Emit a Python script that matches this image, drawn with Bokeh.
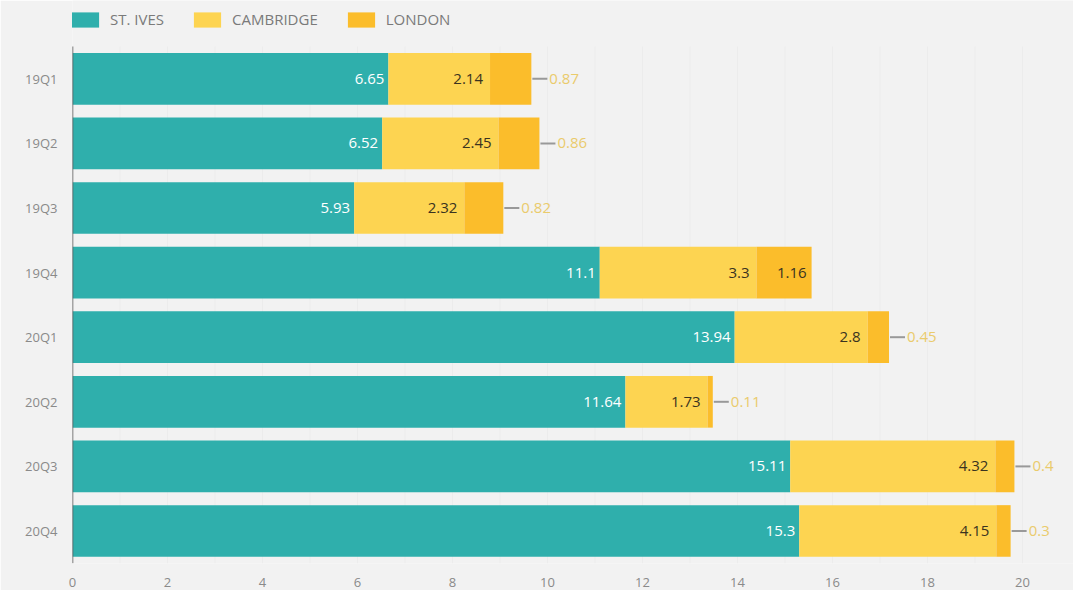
from bokeh.plotting import figure
from bokeh.models import ColumnDataSource, Legend, FixedTicker, Range1d
from bokeh.core.properties import value
from bokeh.embed import file_html
from bokeh.resources import INLINE

quarters = ["19Q1", "19Q2", "19Q3", "19Q4", "20Q1", "20Q2", "20Q3", "20Q4"]
st_ives = [6.65, 6.52, 5.93, 11.1, 13.94, 11.64, 15.11, 15.3]
cambridge = [2.14, 2.45, 2.32, 3.3, 2.8, 1.73, 4.32, 4.15]
london = [0.87, 0.86, 0.82, 1.16, 0.45, 0.11, 0.4, 0.3]
series = ["ST. IVES", "CAMBRIDGE", "LONDON"]
colors = ["#2fafac", "#fdd451", "#fbbd2b"]
x_ticks = [0, 2, 4, 6, 8, 10, 12, 14, 16, 18, 20]

FONT = "Open Sans"
BG = "#f2f2f2"
W, H = 1073, 590
LEFT = 72            # frame left edge (px)
PX = 47.5            # pixels per data unit along x
BAND = 64.6          # pixels per category
TOP_GAP = 46         # px between frame top and first category band
BOTTOM = 27          # px below frame for the x axis
FH = H - BOTTOM
X_MAX = (W - LEFT) / PX
n = len(quarters)
y_top = -0.5 - TOP_GAP / BAND
y_bottom = y_top + FH / BAND

ypos = list(range(n))
cam_end = [a + b for a, b in zip(st_ives, cambridge)]
total = [a + b for a, b in zip(cam_end, london)]

source = ColumnDataSource(dict(
    y=ypos, st_ives=st_ives, cambridge=cambridge, london=london,
    st_lab=[f"{v:g}" for v in st_ives],
    cam_end=cam_end, cam_lab=[f"{v:g}" for v in cambridge],
))

inside = [v * PX > 48 for v in london]
lon_in = ColumnDataSource(dict(
    y=[q for q, i in zip(ypos, inside) if i],
    x=[t for t, i in zip(total, inside) if i],
    lab=[f"{v:g}" for v, i in zip(london, inside) if i],
))
lon_out = ColumnDataSource(dict(
    y=[q for q, i in zip(ypos, inside) if not i],
    x0=[t + 1 / PX for t, i in zip(total, inside) if not i],
    x1=[t + 16 / PX for t, i in zip(total, inside) if not i],
    x=[t for t, i in zip(total, inside) if not i],
    lab=[f"{v:g}" for v, i in zip(london, inside) if not i],
))

p = figure(width=W, height=H, x_range=(0, X_MAX), y_range=Range1d(y_bottom, y_top),
           output_backend="svg", toolbar_location=None,
           background_fill_color=BG, border_fill_color=BG, outline_line_color=None,
           min_border_left=LEFT, min_border_right=0, min_border_top=0, min_border_bottom=BOTTOM)

# faint vertical grid, limited to the bar area
grid_x = list(range(1, 21))
p.segment(x0=grid_x, x1=grid_x, y0=[-0.5] * len(grid_x), y1=[n - 0.5] * len(grid_x),
          line_color="#ececec", line_width=1)

rs = p.hbar_stack(["st_ives", "cambridge", "london"], y="y", height=0.8,
                  color=colors, line_color=None, source=source)

# y axis line (bar area only)
p.segment(x0=[0], x1=[0], y0=[-0.5], y1=[n - 0.5], line_color="#555555", line_width=1.5)

tf = value(FONT)
p.text(x="st_ives", y="y", text="st_lab", source=source, x_offset=-4,
       text_align="right", text_baseline="middle", text_color="white",
       text_font=tf, text_font_size="15px")
p.text(x="cam_end", y="y", text="cam_lab", source=source, x_offset=-7,
       text_align="right", text_baseline="middle", text_color="#3a3320",
       text_font=tf, text_font_size="15px")
p.text(x="x", y="y", text="lab", source=lon_in, x_offset=-5,
       text_align="right", text_baseline="middle", text_color="#3a3320",
       text_font=tf, text_font_size="15px")
p.segment(x0="x0", x1="x1", y0="y", y1="y", source=lon_out,
          line_color="#999999", line_width=2)
p.text(x="x", y="y", text="lab", source=lon_out, x_offset=18,
       text_align="left", text_baseline="middle", text_color="#eacb6c",
       text_font=tf, text_font_size="15px")

legend = Legend(items=[(s, [r]) for s, r in zip(series, rs)], orientation="horizontal",
                location=(-4, FH - 29), glyph_width=34, glyph_height=19, label_height=19,
                label_standoff=8, spacing=26, padding=0, margin=0,
                border_line_color=None, background_fill_alpha=0,
                label_text_font=FONT, label_text_font_size="15px", label_text_color="#7a7a7a")
p.add_layout(legend)

p.xaxis.ticker = FixedTicker(ticks=x_ticks)
p.xaxis.axis_line_color = None
p.xaxis.major_tick_line_color = None
p.xaxis.minor_tick_line_color = None
p.xaxis.major_label_text_font = FONT
p.xaxis.major_label_text_font_size = "13px"
p.xaxis.major_label_text_color = "#8a8a8a"
p.xaxis.major_label_standoff = 8

p.yaxis.ticker = FixedTicker(ticks=ypos)
p.yaxis.major_label_overrides = {i: q for i, q in zip(ypos, quarters)}
p.yaxis.axis_line_color = None
p.yaxis.major_tick_line_color = None
p.yaxis.minor_tick_line_color = None
p.yaxis.major_label_text_font = FONT
p.yaxis.major_label_text_font_size = "13px"
p.yaxis.major_label_text_color = "#8a8a8a"
p.yaxis.major_label_standoff = 9

p.xgrid.grid_line_color = None
p.ygrid.grid_line_color = None

html = file_html(p, INLINE)
html = html.replace("<body>", '<body style="background:#f2f2f2">', 1)
open("out.html", "w").write(html)
